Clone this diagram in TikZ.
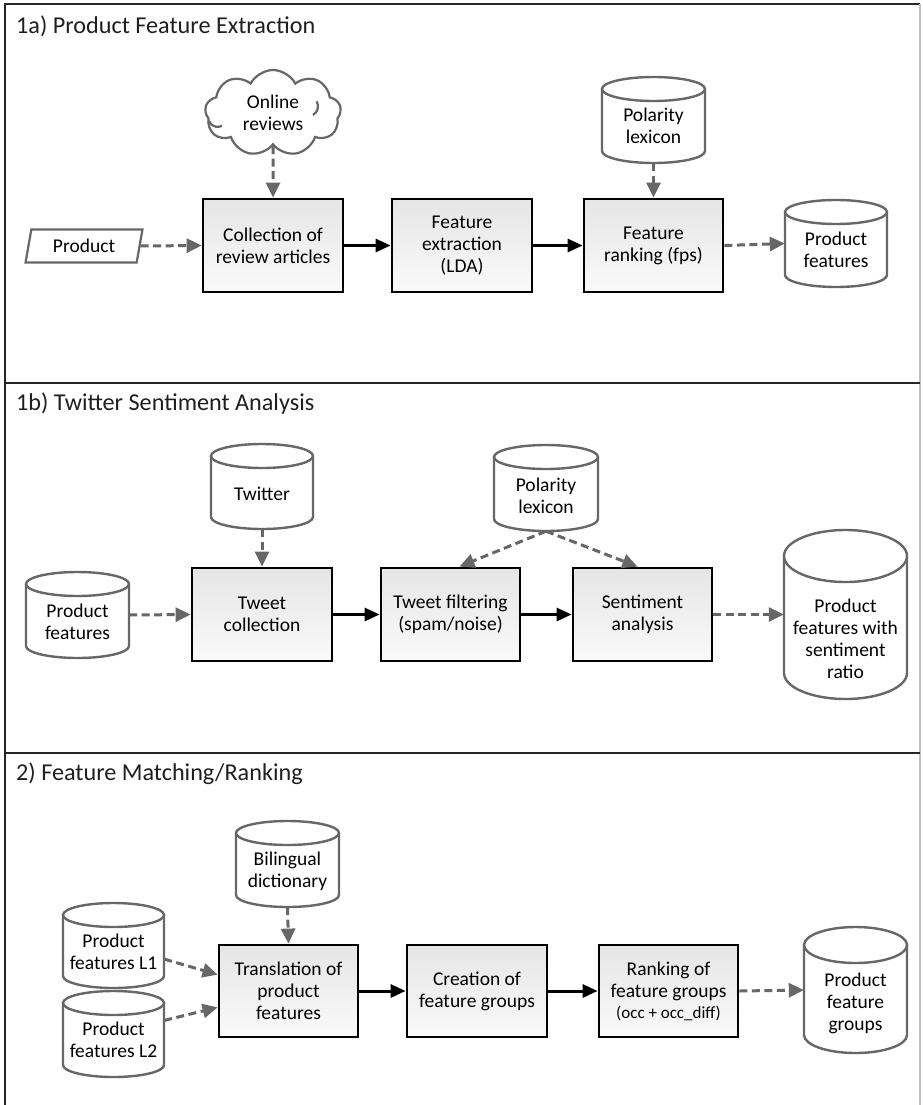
\documentclass[tikz,border=0pt]{standalone}
\usepackage{fontspec}
\setmainfont{Carlito}
\usetikzlibrary{arrows.meta,shapes.geometric,shapes.symbols,calc}
\definecolor{dgray}{HTML}{676767}
\newcommand\bxfont{\fontsize{19.5}{22}\selectfont}
\newcommand\ttlfont{\fontsize{24.2}{28}\selectfont}
% #1 name, #2 x, #3 y (down), #4 width, #5 height, #6 ellipse half-height, #7 text offset, #8 text
\newcommand\dbcyl[8]{%
  \pgfmathsetmacro\dbL{#2-#4/2}%
  \pgfmathsetmacro\dbR{#2+#4/2}%
  \pgfmathsetmacro\dbT{-#3+#5/2-#6}%
  \pgfmathsetmacro\dbB{-#3-#5/2+#6}%
  \pgfmathsetmacro\dbrx{#4/2}%
  \draw[dbline] (\dbL,\dbT) -- (\dbL,\dbB) arc[start angle=180,end angle=360,x radius=\dbrx pt,y radius=#6pt] -- (\dbR,\dbT);
  \draw[dbline] (#2,\dbT) ellipse[x radius=\dbrx pt,y radius=#6pt];
  \node[dbbox, minimum width=#4pt, minimum height=#5pt] (#1) at (#2,-#3) {};
  \node[txt] (#1-t) at (#2,{-#3-#7}) {#8};
}
\begin{document}
\begin{tikzpicture}[x=1pt,y=1pt,
  box/.style={draw=black, line width=2.8pt, top color=black!10, bottom color=black!2,
    minimum width=140pt, minimum height=93pt, inner sep=0pt, align=center, font=\bxfont},
  dbline/.style={draw=dgray, line width=2.4pt, fill=white},
  dbbox/.style={rectangle, draw=none, inner sep=0pt},
  txt/.style={align=center, font=\bxfont, inner sep=0pt},
  ttl/.style={font=\ttlfont, text=black!88, inner sep=0pt, anchor=base west},
  flow/.style={line width=3pt, -{Triangle[length=15pt,width=13pt]}},
  dflow/.style={draw=dgray, line width=3pt, dash pattern=on 8pt off 4.5pt,
    -{Triangle[length=15pt,width=14pt]}},
  frame/.style={line width=1.4pt, draw=black!85},
  curl/.style={draw=dgray, line width=2.2pt}
]
\path[fill=white] (0,0) rectangle (922,-1105);
\useasboundingbox (0,0) rectangle (922,-1105);

% frames
\draw[frame] (5,-1105) -- (5,-4) -- (920,-4);
\draw[line width=1.4pt, draw=black!25] (920,-4) -- (920,-1105);
\draw[frame] (5,-383) -- (920,-383);
\draw[frame] (5,-753) -- (920,-753);

% ---------- 1a ----------
\node[ttl] (t1) at (16,-34) {1a) Product Feature Extraction};

\node[cloud, draw=dgray, line width=2.2pt, fill=white, cloud puffs=9, cloud puff arc=125,
  aspect=1.55, minimum width=136pt, minimum height=86pt, inner sep=0pt,
  align=center, font=\bxfont] (cl) at (273,-113) {Online\\reviews};
\draw[curl] ($(cl.center)+(-64,-8)$) arc[start angle=200, end angle=300, radius=9pt];
\draw[curl] ($(cl.center)+(40,-2)$) arc[start angle=-60, end angle=30, radius=10pt];
\node[trapezium, trapezium left angle=76, trapezium right angle=104, trapezium stretches=true,
  draw=dgray, line width=2.2pt, fill=white, minimum width=117pt, minimum height=33pt,
  inner sep=0pt, font=\bxfont] (prod) at (84,-246) {Product};
\node[box] (col) at (273,-245.5) {Collection of\\review articles};
\node[box] (fe) at (462,-245.5) {Feature\\extraction\\(LDA)};
\node[box, minimum width=139pt] (fr) at (653.5,-245.5) {Feature\\ranking (fps)};
\dbcyl{pl1}{653.5}{120}{103}{86}{12}{6}{Polarity\\lexicon}
\dbcyl{pf1}{836}{243.5}{102}{87}{12}{6.5}{Product\\features}

\draw[dflow] (cl.south) -- (col.north);
\draw[dflow] (prod.east) -- (col.west);
\draw[flow] (col.east) -- (fe.west);
\draw[flow] (fe.east) -- (fr.west);
\draw[dflow] (pl1.south) -- (fr.north);
\draw[dflow] (fr.east) -- (pf1.west);

% ---------- 1b ----------
\node[ttl] (t2) at (16,-410) {1b) Twitter Sentiment Analysis};

\dbcyl{tw}{262}{486.5}{102}{85}{12}{7.5}{Twitter}
\dbcyl{pf2}{77.5}{615}{103}{86}{12}{6.5}{Product\\features}
\dbcyl{pl2}{546}{488}{104}{86}{12}{7.5}{Polarity\\lexicon}
\dbcyl{pfs}{845.5}{614.5}{123}{169}{26}{24}{Product\\features with\\sentiment\\ratio}
\node[box] (tc) at (262,-614.5) {Tweet\\collection};
\node[box, minimum width=139pt] (tf) at (450.5,-614.5) {Tweet filtering\\(spam/noise)};
\node[box, minimum width=139pt] (sa) at (642.5,-614.5) {Sentiment\\analysis};

\draw[dflow] (tw.south) -- (tc.north);
\draw[dflow] (pf2.east) -- (tc.west);
\draw[flow] (tc.east) -- (tf.west);
\draw[flow] (tf.east) -- (sa.west);
\draw[dflow] (pl2.south) -- ($(tf.north)+(9,0)$);
\draw[dflow] (pl2.south) -- ($(sa.north)+(-5,0)$);
\draw[dflow] (sa.east) -- (pfs.west);

% ---------- 2 ----------
\node[ttl] (t3) at (16,-780) {2) Feature Matching/Ranking};

\dbcyl{bd}{287.5}{864}{103}{86}{12}{7}{Bilingual\\dictionary}
\dbcyl{l1}{113.5}{945.5}{101}{85}{12}{6}{Product\\features L1}
\dbcyl{l2}{113.5}{1034}{101}{86}{12}{6}{Product\\features L2}
\dbcyl{pfg}{855.5}{990}{103}{126}{18}{13}{Product\\feature\\groups}
\node[box, minimum width=139pt, minimum height=92pt] (tr) at (288.5,-991) {Translation of\\product\\features};
\node[box, minimum height=92pt] (cr) at (477,-991) {Creation of\\feature groups};
\node[box, minimum width=139pt, minimum height=92pt] (rk) at (668.5,-991)
  {Ranking of\\feature groups\\[-1pt]{\fontsize{17}{19}\selectfont (occ + occ\_diff)}};

\draw[dflow] (bd.south) -- (tr.north);
\draw[dflow] (l1.-15) -- (tr.167);
\draw[dflow] (l2.15) -- (tr.193);
\draw[flow] (tr.east) -- (cr.west);
\draw[flow] (cr.east) -- (rk.west);
\draw[dflow] (rk.east) -- (pfg.west);
\end{tikzpicture}
\end{document}
